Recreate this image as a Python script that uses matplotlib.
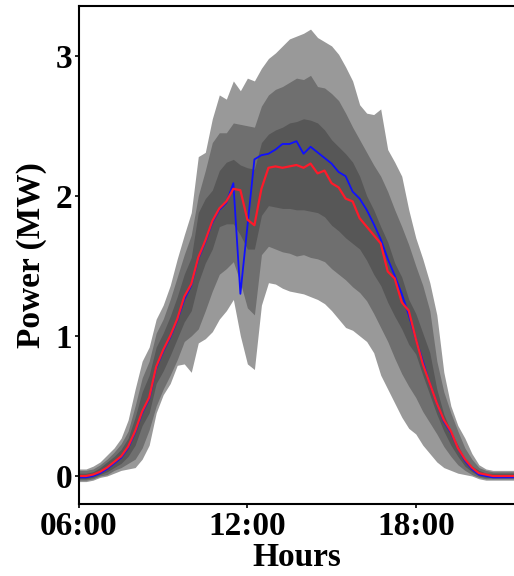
import numpy as np
from matplotlib import pyplot as plt

# time grid (15 min steps), hours of day
hours = np.arange(6.0, 21.51, 0.25)

# shaded quantile bands (MW): outer / middle / inner, upper and lower edges
outer_hi = [0.05, 0.05, 0.07, 0.10, 0.15, 0.20, 0.27, 0.40, 0.62, 0.82,
            0.92, 1.12, 1.22, 1.36, 1.55, 1.72, 1.88, 2.28, 2.31, 2.55,
            2.72, 2.69, 2.82, 2.75, 2.84, 2.82, 2.91, 2.98, 3.02, 3.07,
            3.12, 3.14, 3.16, 3.19, 3.13, 3.10, 3.07, 3.01, 2.92, 2.82,
            2.65, 2.59, 2.58, 2.62, 2.33, 2.24, 2.14, 1.90, 1.70, 1.55,
            1.38, 1.15, 0.74, 0.50, 0.36, 0.27, 0.16, 0.08, 0.05, 0.04,
            0.04, 0.04, 0.04]
mid_hi = [0.04, 0.04, 0.05, 0.08, 0.12, 0.17, 0.23, 0.32, 0.50, 0.70,
          0.82, 1.02, 1.12, 1.26, 1.42, 1.58, 1.72, 2.00, 2.18, 2.38,
          2.45, 2.45, 2.52, 2.51, 2.50, 2.49, 2.64, 2.72, 2.76, 2.78,
          2.81, 2.84, 2.83, 2.86, 2.78, 2.77, 2.73, 2.68, 2.59, 2.49,
          2.40, 2.31, 2.22, 2.14, 2.03, 1.90, 1.78, 1.65, 1.50, 1.36,
          1.18, 0.82, 0.60, 0.45, 0.32, 0.20, 0.12, 0.06, 0.04, 0.03,
          0.03, 0.03, 0.03]
inner_hi = [0.02, 0.02, 0.03, 0.06, 0.10, 0.14, 0.19, 0.27, 0.42, 0.60,
            0.72, 0.92, 1.02, 1.14, 1.28, 1.44, 1.56, 1.88, 1.98, 2.04,
            2.18, 2.24, 2.26, 2.22, 2.20, 2.19, 2.38, 2.44, 2.47, 2.49,
            2.52, 2.53, 2.55, 2.54, 2.52, 2.47, 2.40, 2.35, 2.30, 2.24,
            2.14, 2.00, 1.90, 1.78, 1.67, 1.52, 1.42, 1.26, 1.16, 1.02,
            0.88, 0.62, 0.44, 0.32, 0.22, 0.12, 0.07, 0.04, 0.02, 0.02,
            0.02, 0.02, 0.02]
inner_lo = [-0.02, -0.02, -0.01, 0.01, 0.03, 0.06, 0.09, 0.14, 0.22, 0.36,
            0.45, 0.66, 0.75, 0.86, 0.98, 1.10, 1.18, 1.38, 1.52, 1.62,
            1.78, 1.80, 1.80, 1.72, 1.62, 1.62, 1.86, 1.93, 1.92, 1.91,
            1.91, 1.90, 1.90, 1.89, 1.88, 1.85, 1.79, 1.75, 1.70, 1.66,
            1.62, 1.54, 1.44, 1.36, 1.24, 1.14, 1.05, 0.94, 0.87, 0.72,
            0.58, 0.44, 0.32, 0.22, 0.14, 0.07, 0.03, 0.00, -0.01, -0.01,
            -0.01, -0.01, -0.01]
mid_lo = [-0.03, -0.03, -0.02, 0.00, 0.01, 0.04, 0.06, 0.09, 0.12, 0.20,
          0.33, 0.50, 0.62, 0.72, 0.83, 0.96, 1.00, 1.05, 1.18, 1.32,
          1.44, 1.48, 1.53, 1.38, 1.20, 1.15, 1.58, 1.64, 1.62, 1.60,
          1.59, 1.57, 1.58, 1.56, 1.55, 1.53, 1.48, 1.44, 1.40, 1.35,
          1.31, 1.25, 1.16, 1.06, 0.96, 0.84, 0.73, 0.64, 0.56, 0.46,
          0.38, 0.30, 0.21, 0.14, 0.08, 0.04, 0.01, -0.01, -0.02, -0.02,
          -0.02, -0.02, -0.02]
outer_lo = [-0.04, -0.04, -0.03, -0.01, 0.00, 0.02, 0.04, 0.05, 0.06, 0.12,
            0.22, 0.45, 0.58, 0.66, 0.79, 0.80, 0.74, 0.95, 0.98, 1.03,
            1.12, 1.18, 1.26, 1.00, 0.80, 0.76, 1.22, 1.38, 1.37, 1.34,
            1.32, 1.31, 1.30, 1.28, 1.26, 1.23, 1.18, 1.12, 1.06, 1.04,
            1.00, 0.96, 0.88, 0.72, 0.62, 0.52, 0.42, 0.34, 0.30, 0.22,
            0.16, 0.10, 0.06, 0.04, 0.02, 0.01, 0.00, -0.02, -0.03, -0.03,
            -0.03, -0.03, -0.03]

# two profiles (MW)
red_line = [0.00, 0.00, 0.01, 0.03, 0.06, 0.10, 0.14, 0.21, 0.32, 0.46,
            0.56, 0.78, 0.90, 1.00, 1.12, 1.28, 1.37, 1.56, 1.68, 1.82,
            1.91, 1.96, 2.05, 2.04, 1.83, 1.79, 2.05, 2.20, 2.21, 2.20,
            2.21, 2.22, 2.20, 2.23, 2.16, 2.18, 2.09, 2.06, 1.98, 1.96,
            1.84, 1.78, 1.72, 1.66, 1.46, 1.41, 1.24, 1.18, 0.98, 0.80,
            0.66, 0.52, 0.40, 0.32, 0.20, 0.12, 0.06, 0.02, 0.01, 0.00,
            0.00, 0.00, 0.00]
blue_line = [-0.01, -0.01, 0.00, 0.02, 0.05, 0.09, 0.13, 0.20, 0.31, 0.45,
             0.55, 0.77, 0.89, 0.99, 1.11, 1.26, 1.36, 1.55, 1.67, 1.81,
             1.90, 1.95, 2.09, 1.30, 1.78, 2.26, 2.29, 2.30, 2.33, 2.37,
             2.37, 2.39, 2.30, 2.35, 2.31, 2.27, 2.23, 2.17, 2.14, 2.03,
             1.98, 1.90, 1.80, 1.69, 1.55, 1.43, 1.30, 1.15, 0.98, 0.82,
             0.66, 0.52, 0.39, 0.31, 0.20, 0.11, 0.05, 0.01, 0.00, -0.01,
             -0.01, -0.01, -0.01]

tick_pos = [6, 12, 18]
tick_lab = ['06:00', '12:00', '18:00']

plt.rcParams['font.family'] = ['Liberation Serif', 'DejaVu Serif']
plt.rcParams['font.weight'] = 'bold'
plt.rcParams['font.size'] = 24

fig = plt.figure(figsize=(5.14, 5.76), dpi=100)
ax = fig.add_axes([0.1537, 0.125, 0.8463, 0.8646])

ax.fill_between(hours, outer_lo, outer_hi, color='#999999', linewidth=0)
ax.fill_between(hours, mid_lo, mid_hi, color='#6f6f6f', linewidth=0)
ax.fill_between(hours, inner_lo, inner_hi, color='#575757', linewidth=0)
ax.plot(hours, blue_line, color='#1010ff', linewidth=1.3)
ax.plot(hours, red_line, color='#ff1a2a', linewidth=1.6)

ax.set_xlim(6, 21.5)
ax.set_ylim(-0.2, 3.355)
ax.set_xticks(tick_pos)
ax.set_xticklabels(tick_lab)
ax.set_yticks([0, 1, 2, 3])
ax.tick_params(length=3, width=1.2, pad=2)
for s in ax.spines.values():
    s.set_linewidth(1.5)
ax.spines['right'].set_visible(False)

ax.set_xlabel('Hours', fontweight='bold', labelpad=0)
ax.set_ylabel('Power (MW)', fontweight='bold', labelpad=6)

fig.savefig('out.png', dpi=100)
